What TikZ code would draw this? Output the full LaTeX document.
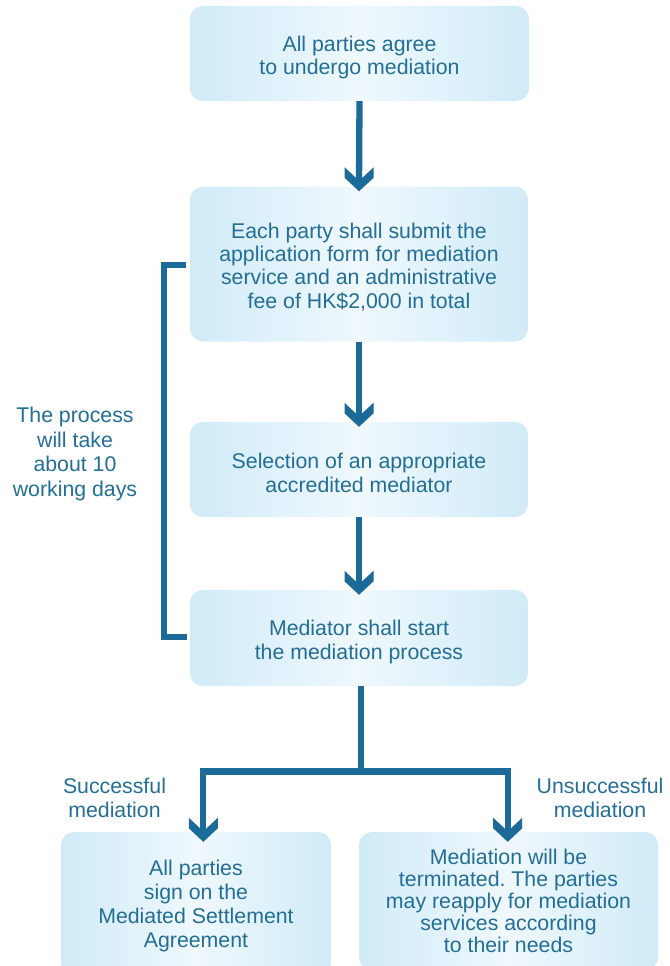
\documentclass[tikz,border=0pt]{standalone}
\usepackage{fontspec}
\setmainfont{Liberation Sans}
\usetikzlibrary{arrows.meta,calc}
\definecolor{arrowblue}{HTML}{1B6A97}
\definecolor{textblue}{HTML}{236E96}
\definecolor{boxedge}{HTML}{D0EBF7}
\definecolor{boxmid}{HTML}{EFF8FD}
\newcommand{\topstrut}[1]{\rule{0pt}{#1}}
\pgfdeclarearrow{
  name = Chev,
  setup code = {
    \pgfarrowssettipend{0pt}
    \pgfarrowssetlineend{-10pt}
    \pgfarrowssetbackend{-24pt}
    \pgfarrowshullpoint{0pt}{0pt}
    \pgfarrowsupperhullpoint{-24pt}{14.5pt}
  },
  drawing code = {
    \pgfpathmoveto{\pgfqpoint{0pt}{0pt}}
    \pgfpathlineto{\pgfqpoint{-13.5pt}{14.5pt}}
    \pgfpathlineto{\pgfqpoint{-24pt}{14.5pt}}
    \pgfpathlineto{\pgfqpoint{-10.5pt}{0pt}}
    \pgfpathlineto{\pgfqpoint{-24pt}{-14.5pt}}
    \pgfpathlineto{\pgfqpoint{-13.5pt}{-14.5pt}}
    \pgfpathclose
    \pgfusepathqfill
  }
}
\tikzset{
  stepbox/.style={rectangle, rounded corners=13pt, left color=boxedge, right color=boxedge,
    middle color=boxmid, draw=none, text=textblue, align=center, inner sep=0pt,
    font=\fontsize{21.3}{23.2}\selectfont},
  conn/.style={draw=arrowblue, line width=6.3pt, -{Chev}, arrowblue},
  brk/.style={draw=arrowblue, line width=5.6pt, line join=miter},
  lbl/.style={text=textblue, align=center, inner sep=0pt, font=\fontsize{21.3}{24.5}\selectfont}
}
\begin{document}
\frenchspacing
\begin{tikzpicture}[x=1pt,y=-1pt]
\useasboundingbox (0,0) rectangle (669,966);
\clip (0,0) rectangle (669,966);
\node[stepbox, minimum width=339pt, minimum height=95pt] (b1) at (359.5,53.5)
  {\topstrut{23pt}All parties agree\\to undergo mediation};
\node[stepbox, minimum width=338pt, minimum height=155pt] (b2) at (359,264)
  {\topstrut{21.5pt}Each party shall submit the\\application form for mediation\\service and an administrative\\fee of HK\$2,000 in total};
\node[stepbox, minimum width=338pt, minimum height=95pt, font=\fontsize{21.3}{24}\selectfont] (b3) at (359,469.5)
  {\topstrut{23pt}Selection of an appropriate\\accredited mediator};
\node[stepbox, minimum width=338pt, minimum height=96pt, font=\fontsize{21.3}{24}\selectfont] (b4) at (359,638)
  {\topstrut{23pt}Mediator shall start\\the mediation process};
\node[stepbox, minimum width=270pt, minimum height=144pt, font=\fontsize{21.3}{24}\selectfont] (b5) at (196,904)
  {\topstrut{19.5pt}All parties\\sign on the\\Mediated Settlement\\Agreement};
\node[stepbox, minimum width=299pt, minimum height=138pt, font=\fontsize{21.3}{22}\selectfont] (b6) at (508.5,901)
  {Mediation will be\\terminated. The parties\\may reapply for mediation\\services according\\to their needs};

\node[lbl] (lt) at (75,452) {\topstrut{19.5pt}The process\\will take\\about 10\\working days};
\node[lbl] (ls) at (114.5,798) {Successful\\mediation};
\node[lbl] (lu) at (600,798) {Unsuccessful\\mediation};

\draw[conn, shorten >=-5pt] (b1.south) -- (b2.north);
\draw[conn, shorten >=-5pt] (b2.south) -- (b3.north);
\draw[conn, shorten >=-5pt] (b3.south) -- (b4.north);

\coordinate (j) at (361,771.5);
\coordinate (jl) at (203.3,771.5);
\coordinate (jr) at (507.7,771.5);
\draw[draw=arrowblue, line width=6.3pt] (b4.south -| j) -- (j);
\draw[conn, line join=miter, shorten >=-10pt] (j) -- (jl) -- (b5.north -| jl);
\draw[conn, line join=miter, shorten >=-10pt] (j) -- (jr) -- (b6.north -| jr);

\coordinate (bt1) at (185.5,265);
\coordinate (bt2) at (164,265);
\coordinate (bb2) at (164,637);
\coordinate (bb1) at (187,637);
\draw[brk] (bt1) -- (bt2) -- (bb2) -- (bb1);
\end{tikzpicture}
\end{document}
